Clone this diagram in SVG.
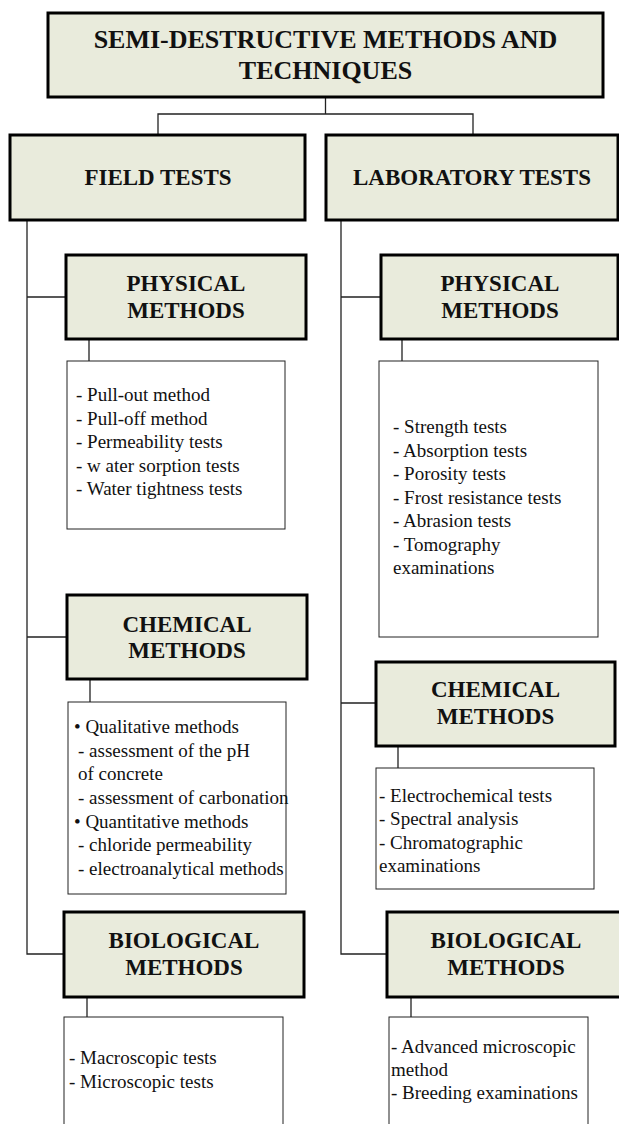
<svg xmlns="http://www.w3.org/2000/svg" width="619" height="1124" viewBox="0 0 619 1124">
  <style>
    .head { fill: #E9EBDC; stroke: #000; stroke-width: 3; }
    .list { fill: #fff; stroke: #222; stroke-width: 1; }
    .ht { font-family: "Liberation Serif", "Times New Roman", serif; font-weight: bold; font-size: 23px; text-anchor: middle; fill: #111; }
    .tt { font-family: "Liberation Serif", "Times New Roman", serif; font-weight: bold; font-size: 26px; text-anchor: middle; fill: #111; }
    .lt { font-family: "Liberation Serif", "Times New Roman", serif; font-size: 19px; fill: #111; }
    .conn { fill: none; stroke: #222; stroke-width: 1.3; }
  </style>

  <rect width="619" height="1124" fill="#fff"/>

  <!-- connectors -->
  <g id="connectors">
    <path class="conn" d="M325.5 97 V114 M158 135 V114 H473 V135"/>
    <!-- field trunk -->
    <path class="conn" d="M27 220 V954 H64 M27 297 H66 M27 637 H67"/>
    <!-- laboratory trunk -->
    <path class="conn" d="M341 220 V954 H387 M341 297 H381 M341 703 H376"/>
    <!-- header to list -->
    <path class="conn" d="M89 339 V361 M402 339 V361 M90 679 V702 M398 746 V768 M87 997 V1017 M411 997 V1017"/>
  </g>

  <!-- root -->
  <g id="root">
    <rect class="head" x="48" y="13" width="555" height="84"/>
    <text class="tt" x="325.5" y="48">SEMI-DESTRUCTIVE METHODS AND</text>
    <text class="tt" x="325.5" y="79">TECHNIQUES</text>
  </g>

  <g id="field-tests">
    <rect class="head" x="10" y="135" width="295" height="85"/>
    <text class="ht" x="158" y="185">FIELD TESTS</text>
  </g>

  <g id="lab-tests">
    <rect class="head" x="326" y="135" width="292" height="85"/>
    <text class="ht" x="472" y="185">LABORATORY TESTS</text>
  </g>

  <!-- field branch -->
  <g id="field-physical">
    <rect class="head" x="66" y="255" width="240" height="84"/>
    <text class="ht" x="186" y="291">PHYSICAL</text>
    <text class="ht" x="186" y="318">METHODS</text>
  </g>
  <g id="field-physical-list">
    <rect class="list" x="67" y="361" width="218" height="168"/>
    <text class="lt" x="76" y="401">- Pull-out method</text>
    <text class="lt" x="76" y="424.5">- Pull-off method</text>
    <text class="lt" x="76" y="448">- Permeability tests</text>
    <text class="lt" x="76" y="471.5">- w ater sorption tests</text>
    <text class="lt" x="76" y="495">- Water tightness tests</text>
  </g>

  <g id="field-chemical">
    <rect class="head" x="67" y="595" width="240" height="84"/>
    <text class="ht" x="187" y="632">CHEMICAL</text>
    <text class="ht" x="187" y="658">METHODS</text>
  </g>
  <g id="field-chemical-list">
    <rect class="list" x="68" y="702" width="218" height="192"/>
    <text class="lt" x="74" y="733">• Qualitative methods</text>
    <text class="lt" x="78" y="757">- assessment of the pH</text>
    <text class="lt" x="78" y="780">of concrete</text>
    <text class="lt" x="78" y="803.5">- assessment of carbonation</text>
    <text class="lt" x="74" y="827.5">• Quantitative methods</text>
    <text class="lt" x="78" y="851">- chloride permeability</text>
    <text class="lt" x="78" y="875">- electroanalytical methods</text>
  </g>

  <g id="field-biological">
    <rect class="head" x="64" y="912" width="240" height="85"/>
    <text class="ht" x="184" y="948">BIOLOGICAL</text>
    <text class="ht" x="184" y="975">METHODS</text>
  </g>
  <g id="field-biological-list">
    <rect class="list" x="64" y="1017" width="219" height="120"/>
    <text class="lt" x="69" y="1064">- Macroscopic tests</text>
    <text class="lt" x="69" y="1088">- Microscopic tests</text>
  </g>

  <!-- laboratory branch -->
  <g id="lab-physical">
    <rect class="head" x="381" y="255" width="237" height="84"/>
    <text class="ht" x="500" y="291">PHYSICAL</text>
    <text class="ht" x="500" y="318">METHODS</text>
  </g>
  <g id="lab-physical-list">
    <rect class="list" x="379" y="361" width="219" height="276"/>
    <text class="lt" x="393" y="433">- Strength tests</text>
    <text class="lt" x="393" y="456.5">- Absorption tests</text>
    <text class="lt" x="393" y="480">- Porosity tests</text>
    <text class="lt" x="393" y="503.5">- Frost resistance tests</text>
    <text class="lt" x="393" y="527">- Abrasion tests</text>
    <text class="lt" x="393" y="550.5">- Tomography</text>
    <text class="lt" x="393" y="574">examinations</text>
  </g>

  <g id="lab-chemical">
    <rect class="head" x="376" y="662" width="239" height="84"/>
    <text class="ht" x="495.5" y="697">CHEMICAL</text>
    <text class="ht" x="495.5" y="724">METHODS</text>
  </g>
  <g id="lab-chemical-list">
    <rect class="list" x="376" y="768" width="218" height="121"/>
    <text class="lt" x="379" y="802">- Electrochemical tests</text>
    <text class="lt" x="379" y="825">- Spectral analysis</text>
    <text class="lt" x="379" y="848.5">- Chromatographic</text>
    <text class="lt" x="379" y="872">examinations</text>
  </g>

  <g id="lab-biological">
    <rect class="head" x="387" y="912" width="238" height="85"/>
    <text class="ht" x="506" y="948">BIOLOGICAL</text>
    <text class="ht" x="506" y="975">METHODS</text>
  </g>
  <g id="lab-biological-list">
    <rect class="list" x="389" y="1017" width="199" height="120"/>
    <text class="lt" x="391" y="1053">- Advanced microscopic</text>
    <text class="lt" x="391" y="1076">method</text>
    <text class="lt" x="391" y="1099">- Breeding examinations</text>
  </g>
</svg>
